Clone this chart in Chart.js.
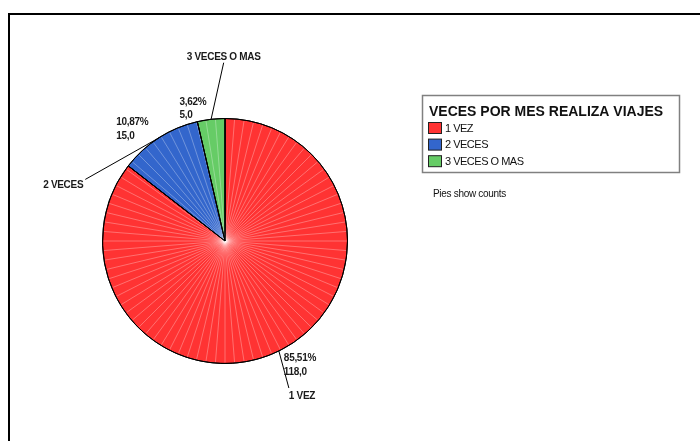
<!DOCTYPE html>
<html>
<head>
<meta charset="utf-8">
<script src="https://cdn.jsdelivr.net/npm/chart.js@4.4.1/dist/chart.umd.min.js"></script>
<style>
  html, body { margin: 0; padding: 0; background: #fff; }
  #wrap { width: 700px; height: 441px; position: relative; }
</style>
</head>
<body>
<div id="wrap"><canvas id="c" width="700" height="441"></canvas></div>
<script>
const categories = ['1 VEZ', '2 VECES', '3 VECES O MAS'];
const counts = [118, 15, 5];
const legendTitle = 'VECES POR MES REALIZA VIAJES';
const footnote = 'Pies show counts';
const sliceColors = ['#ff3333', '#3366cc', '#66cc66'];

// Callout geometry, relative to the outer midpoint of each slice:
// line = end of the leader line, pct = first line of the percent/count label,
// name = category label relative to the leader line end.
const calloutLayout = [
  { line: [10, 37],     pct: [5, 10],      name: [0, 11],   align: 'left' },
  { line: [-73.7, 41.6], pct: [-42.7, -12.4], name: [-2, 9], align: 'right' },
  { line: [12.6, -56.6], pct: [-31.7, -14.3], name: [0, -2.7], align: 'center' }
];

const FONT = "'Liberation Sans', Arial, Helvetica, sans-serif";
const total = counts.reduce((a, b) => a + b, 0);
const fmt = (v, d) => v.toFixed(d).replace('.', ',');

const pieDecor = {
  id: 'pieDecor',
  beforeDraw(chart) {
    const ctx = chart.ctx;
    ctx.save();
    ctx.fillStyle = '#fff';
    ctx.fillRect(0, 0, chart.width, chart.height);
    // outer frame (continues past the right and bottom edges)
    ctx.strokeStyle = '#000';
    ctx.lineWidth = 2;
    ctx.strokeRect(9, 14, 740, 480);
    ctx.restore();
  },
  afterDatasetsDraw(chart) {
    const ctx = chart.ctx;
    const meta = chart.getDatasetMeta(0);
    const step = 4.5 * Math.PI / 180;

    meta.data.forEach((arc) => {
      const p = arc.getProps(['x', 'y', 'startAngle', 'endAngle', 'outerRadius'], true);
      // light radial shading spokes inside the slice
      ctx.save();
      ctx.beginPath();
      ctx.moveTo(p.x, p.y);
      ctx.arc(p.x, p.y, p.outerRadius, p.startAngle, p.endAngle);
      ctx.closePath();
      ctx.clip();
      ctx.strokeStyle = 'rgba(255,255,255,0.38)';
      ctx.lineWidth = 0.8;
      for (let a = -Math.PI / 2 + step; a < 1.5 * Math.PI; a += step) {
        ctx.beginPath();
        ctx.moveTo(p.x, p.y);
        ctx.lineTo(p.x + (p.outerRadius - 1) * Math.cos(a), p.y + (p.outerRadius - 1) * Math.sin(a));
        ctx.stroke();
      }
      ctx.restore();
    });

    // slice outlines on top of the shading
    meta.data.forEach((arc) => {
      const p = arc.getProps(['x', 'y', 'startAngle', 'endAngle', 'outerRadius'], true);
      ctx.save();
      ctx.strokeStyle = '#000';
      ctx.lineWidth = 1;
      ctx.beginPath();
      ctx.moveTo(p.x, p.y);
      ctx.arc(p.x, p.y, p.outerRadius, p.startAngle, p.endAngle);
      ctx.closePath();
      ctx.stroke();
      ctx.restore();
    });

    // callouts
    meta.data.forEach((arc, i) => {
      const p = arc.getProps(['x', 'y', 'startAngle', 'endAngle', 'outerRadius'], true);
      const mid = (p.startAngle + p.endAngle) / 2;
      const ex = p.x + p.outerRadius * Math.cos(mid);
      const ey = p.y + p.outerRadius * Math.sin(mid);
      const L = calloutLayout[i];
      const lx = ex + L.line[0], ly = ey + L.line[1];

      ctx.save();
      ctx.strokeStyle = '#000';
      ctx.lineWidth = 1;
      ctx.beginPath();
      ctx.moveTo(ex, ey);
      ctx.lineTo(lx, ly);
      ctx.stroke();

      ctx.fillStyle = '#1a1a1a';
      ctx.font = 'bold 10px ' + FONT;
      ctx.letterSpacing = '-0.3px';
      ctx.textBaseline = 'alphabetic';
      ctx.textAlign = 'left';
      const px = ex + L.pct[0], py = ey + L.pct[1];
      ctx.fillText(fmt(counts[i] / total * 100, 2) + '%', px, py);
      ctx.fillText(fmt(counts[i], 1), px, py + 13.5);

      ctx.textAlign = L.align;
      ctx.fillText(categories[i], lx + L.name[0], ly + L.name[1]);
      ctx.restore();
    });

    // legend
    ctx.save();
    ctx.strokeStyle = '#808080';
    ctx.lineWidth = 1.5;
    ctx.strokeRect(422.5, 95.5, 257, 77);
    ctx.fillStyle = '#111';
    ctx.font = 'bold 14px ' + FONT;
    ctx.letterSpacing = '0px';
    ctx.textAlign = 'left';
    ctx.fillText(legendTitle, 429, 116);
    ctx.font = '11px ' + FONT;
    ctx.letterSpacing = '-0.5px';
    categories.forEach((name, i) => {
      const y = 122 + i * 16.6;
      ctx.fillStyle = sliceColors[i];
      ctx.fillRect(428.5, y + 0.5, 13, 11);
      ctx.strokeStyle = '#222';
      ctx.lineWidth = 1;
      ctx.strokeRect(428.5, y + 0.5, 13, 11);
      ctx.fillStyle = '#111';
      ctx.fillText(name, 445, y + 9.5);
    });
    ctx.font = '10px ' + FONT;
    ctx.letterSpacing = '-0.3px';
    ctx.fillText(footnote, 433, 197);
    ctx.restore();
  }
};

new Chart(document.getElementById('c'), {
  type: 'pie',
  data: {
    labels: categories,
    datasets: [{
      data: counts,
      backgroundColor: sliceColors,
      borderColor: '#000',
      borderWidth: 1,
      hoverOffset: 0,
      offset: 0
    }]
  },
  options: {
    responsive: false,
    animation: false,
    events: [],
    layout: { padding: { left: 102, right: 352, top: 118, bottom: 77 } },
    plugins: {
      legend: { display: false },
      tooltip: { enabled: false },
      title: { display: false }
    }
  },
  plugins: [pieDecor]
});
</script>
</body>
</html>
